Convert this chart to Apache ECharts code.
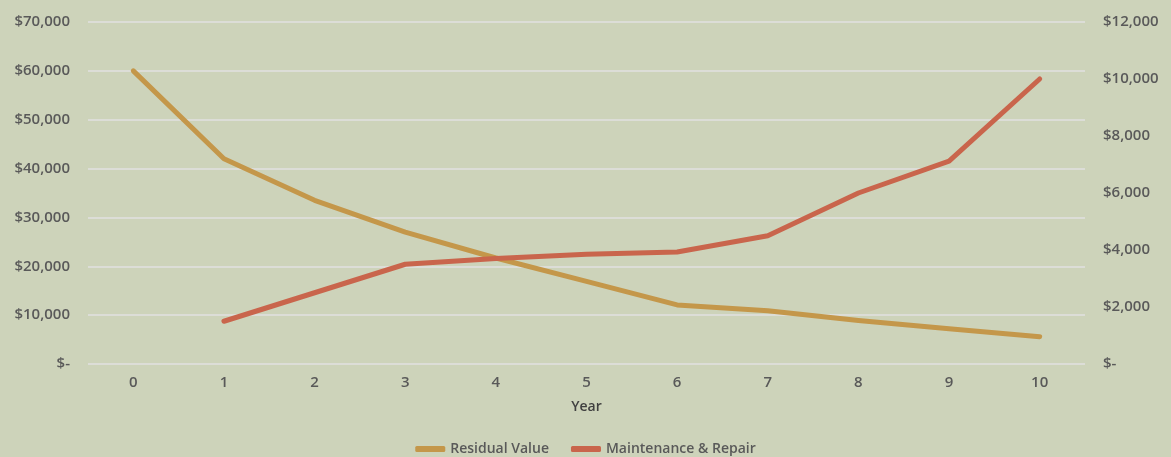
<!DOCTYPE html>
<html><head><meta charset="utf-8">
<script src="https://cdn.jsdelivr.net/npm/echarts@6/dist/echarts.min.js"></script>
<style>html,body{margin:0;padding:0;background:#CDD3BA;}#c{width:1171px;height:457px;}</style>
</head><body><div id="c"></div>
<script>
const years = ['0','1','2','3','4','5','6','7','8','9','10'];
const residualValue = [60000, 42000, 33500, 27000, 21700, 16900, 12100, 10900, 8900, 7200, 5600];
const maintenanceRepair = [null, 1500, 2500, 3500, 3700, 3850, 3930, 4500, 6000, 7120, 10000];

function money(v){ return v === 0 ? '$-' : '$' + v.toLocaleString('en-US'); }
const txt = {color:'#595959', fontFamily:'Open Sans', fontWeight:600, fontSize:15};
const chart = echarts.init(document.getElementById('c'));
chart.setOption({
  backgroundColor:'#CDD3BA',
  animation:false,
  grid:{left:88, right:86, top:22, bottom:93},
  legend:{top:437, left:'center', itemWidth:30, itemHeight:6, itemGap:22,
    textStyle:{color:'#595959', fontFamily:'Open Sans', fontWeight:600, fontSize:14},
    data:[{name:'Residual Value', icon:'roundRect'},{name:'Maintenance & Repair', icon:'roundRect'}]},
  xAxis:{type:'category', data:years, boundaryGap:true,
    name:'Year', nameLocation:'middle', nameGap:36,
    nameTextStyle:{color:'#404040', fontFamily:'Open Sans', fontWeight:600, fontSize:14},
    axisLine:{show:false}, axisTick:{show:false},
    axisLabel:Object.assign({margin:11}, txt)},
  yAxis:[
    {type:'value', min:0, max:70000, interval:10000,
     axisLine:{show:false}, axisTick:{show:false},
     splitLine:{lineStyle:{color:'#E0E0E0', width:1.5}},
     axisLabel:Object.assign({margin:18, formatter:money}, txt)},
    {type:'value', min:0, max:12000, interval:2000, position:'right',
     axisLine:{show:false}, axisTick:{show:false}, splitLine:{show:false},
     axisLabel:Object.assign({margin:18, formatter:money}, txt)}
  ],
  series:[
    {name:'Residual Value', type:'line', yAxisIndex:0, data:residualValue,
     symbol:'none', color:'#C4974A', lineStyle:{width:5, cap:'round', join:'round'}},
    {name:'Maintenance & Repair', type:'line', yAxisIndex:1, data:maintenanceRepair,
     symbol:'none', color:'#C9654C', lineStyle:{width:5, cap:'round', join:'round'}}
  ]
});
</script></body></html>
